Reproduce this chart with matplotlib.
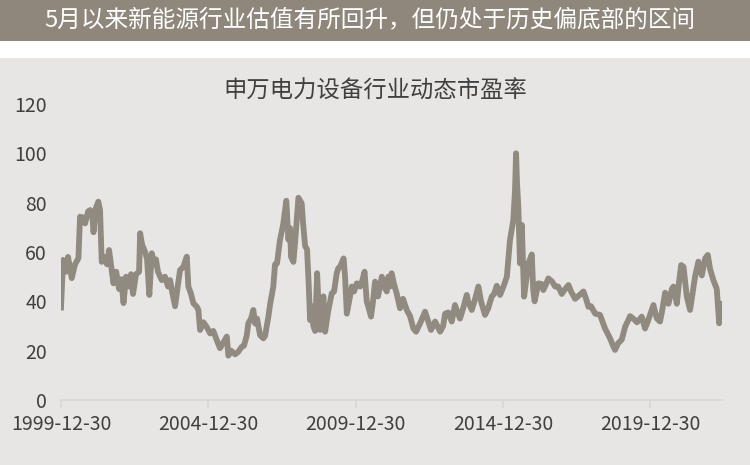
import pandas as pd
import matplotlib
matplotlib.use("Agg")
import matplotlib.pyplot as plt
from matplotlib.patches import Rectangle

plt.rcParams['font.family'] = ['Noto Sans CJK SC', 'DejaVu Sans']

# 标题
banner = "5月以来新能源行业估值有所回升，但仍处于历史偏底部的区间"
title = "申万电力设备行业动态市盈率"

# 申万电力设备 PE
dates = [
    "1999-12-30", "2000-01-25", "2000-03-01", "2000-03-26", "2000-05-11", "2000-06-21",
    "2000-08-02", "2000-08-22", "2000-09-29", "2000-10-24", "2000-12-01", "2000-12-25",
    "2001-01-19", "2001-02-05", "2001-03-08", "2001-04-06", "2001-04-27", "2001-05-18",
    "2001-06-16", "2001-07-23", "2001-08-17", "2001-10-10", "2001-11-13", "2001-12-19",
    "2002-01-14", "2002-02-12", "2002-03-15", "2002-04-21", "2002-05-16", "2002-06-10",
    "2002-07-17", "2002-08-24", "2002-09-06", "2002-09-30", "2002-11-07", "2002-12-01",
    "2002-12-29", "2003-01-28", "2003-02-26", "2003-03-21", "2003-04-15", "2003-06-01",
    "2003-07-11", "2003-08-18", "2003-09-12", "2003-10-07", "2003-11-13", "2003-12-20",
    "2004-01-14", "2004-02-24", "2004-04-06", "2004-04-26", "2004-05-29", "2004-06-27",
    "2004-08-08", "2004-08-28", "2004-09-18", "2004-10-29", "2004-12-02", "2005-01-21",
    "2005-03-01", "2005-04-16", "2005-05-23", "2005-06-29", "2005-08-15", "2005-09-04",
    "2005-10-07", "2005-11-26", "2006-01-03", "2006-02-18", "2006-03-16", "2006-04-19",
    "2006-05-09", "2006-06-12", "2006-07-10", "2006-08-01", "2006-08-25", "2006-10-02",
    "2006-11-12", "2006-12-03", "2007-01-13", "2007-02-04", "2007-03-15", "2007-04-05",
    "2007-04-30", "2007-06-06", "2007-06-27", "2007-07-17", "2007-08-23", "2007-09-18",
    "2007-10-08", "2007-10-21", "2007-11-19", "2007-12-10", "2008-01-20", "2008-03-01",
    "2008-03-17", "2008-04-12", "2008-05-06", "2008-05-25", "2008-06-13", "2008-07-04",
    "2008-07-23", "2008-08-14", "2008-09-08", "2008-09-26", "2008-10-15", "2008-11-03",
    "2008-11-25", "2008-12-16", "2009-01-23", "2009-03-08", "2009-04-06", "2009-05-09",
    "2009-05-28", "2009-06-19", "2009-08-02", "2009-08-20", "2009-09-11", "2009-10-09",
    "2009-11-12", "2009-12-10", "2010-01-13", "2010-02-24", "2010-03-18", "2010-04-19",
    "2010-05-16", "2010-06-05", "2010-07-08", "2010-08-02", "2010-08-27", "2010-10-03",
    "2010-11-19", "2010-12-17", "2011-01-20", "2011-02-09", "2011-03-01", "2011-03-21",
    "2011-04-19", "2011-05-22", "2011-07-02", "2011-08-09", "2011-09-24", "2011-11-04",
    "2011-12-15", "2012-01-18", "2012-03-07", "2012-05-08", "2012-06-15", "2012-07-21",
    "2012-09-10", "2012-11-11", "2012-12-18", "2013-01-12", "2013-02-19", "2013-04-04",
    "2013-05-14", "2013-06-09", "2013-07-15", "2013-08-22", "2013-10-07", "2013-10-23",
    "2013-12-08", "2014-01-19", "2014-02-28", "2014-04-02", "2014-05-21", "2014-06-28",
    "2014-08-13", "2014-09-11", "2014-10-14", "2014-11-24", "2015-01-05", "2015-02-16",
    "2015-03-27", "2015-05-07", "2015-05-28", "2015-06-10", "2015-06-22", "2015-07-08",
    "2015-07-29", "2015-08-20", "2015-09-18", "2015-10-12", "2015-11-10", "2015-12-22",
    "2016-01-08", "2016-01-26", "2016-03-12", "2016-04-24", "2016-05-13", "2016-06-16",
    "2016-07-14", "2016-08-30", "2016-10-06", "2016-11-13", "2016-12-28", "2017-02-08",
    "2017-03-21", "2017-04-22", "2017-06-11", "2017-07-17", "2017-09-22", "2017-10-25",
    "2017-11-23", "2017-12-26", "2018-02-15", "2018-04-16", "2018-06-17", "2018-08-18",
    "2018-09-29", "2018-10-19", "2018-11-26", "2019-01-11", "2019-02-21", "2019-04-02",
    "2019-04-23", "2019-06-03", "2019-07-18", "2019-09-15", "2019-10-26", "2019-11-20",
    "2019-12-27", "2020-02-07", "2020-03-19", "2020-04-29", "2020-05-24", "2020-07-01",
    "2020-08-11", "2020-09-22", "2020-10-12", "2020-11-23", "2020-12-21", "2021-01-16",
    "2021-02-14", "2021-03-26", "2021-05-06", "2021-05-31", "2021-07-07", "2021-08-17",
    "2021-09-29", "2021-11-09", "2021-12-12", "2022-01-10", "2022-02-20", "2022-04-02",
    "2022-05-02", "2022-05-25",
]
pe = [
    37.5, 56.8, 52, 58, 49.4, 55,
    57.5, 74.3, 74, 71.6, 76.5, 77,
    76, 68, 78, 80.4, 77, 56,
    58, 55, 60.8, 47.3, 52, 45,
    49, 39.3, 50, 46, 51, 43,
    51, 52, 67.6, 63, 60, 57,
    42.6, 59.5, 55, 57, 52, 48.6,
    50, 46, 48.6, 44, 38, 47,
    52.7, 54, 58.1, 46, 43, 39.2,
    37.8, 36.5, 28.4, 31.5, 30, 27,
    28, 24, 21, 23, 25.7, 18,
    20, 18.5, 19.5, 21.6, 22, 26,
    31.1, 33, 36.5, 31, 33, 26.3,
    25, 26, 33.8, 39, 46, 55,
    55.4, 65, 68.2, 71.6, 80.8, 65,
    69.7, 58, 56, 64, 82, 79.7,
    72, 62.5, 61, 48, 32.4, 38,
    30, 28, 51.4, 38, 28.4, 36,
    42, 27.7, 36, 43.2, 44, 51.4,
    53.4, 54, 57.4, 50, 35, 40,
    46, 44, 47.3, 46, 48, 52,
    40, 37.8, 33.8, 40, 48, 42,
    50, 46, 44, 50, 46, 51.4,
    47, 43.2, 37.2, 41, 36.5, 34,
    29, 27.7, 31, 35.8, 32, 28.4,
    31.8, 27.7, 30, 35, 35.5, 31.8,
    38.5, 36, 33, 37, 42.6, 40,
    36.5, 41, 46, 40, 34.5, 37,
    42, 43, 46.3, 42.6, 46, 50,
    64.9, 73, 85, 100, 88, 78.4,
    55.4, 71, 41.9, 48, 55.4, 59,
    45, 40, 47.3, 47, 44.6, 47,
    49.3, 48, 46, 46, 43, 45,
    46.6, 44, 41, 42, 44, 41,
    37.8, 38, 35, 34.5, 29, 25,
    21.6, 20.3, 23, 24.5, 29.7, 32.4,
    34, 33, 31.5, 33.8, 29, 31,
    34.5, 38.5, 33.1, 31.8, 36, 43.5,
    39, 45, 46, 39, 48, 54.7,
    54, 42, 36.5, 42, 50, 56.1,
    50.5, 57.4, 58.8, 53, 48.5, 45,
    31.1, 39,
]
xticks = ["1999-12-30", "2004-12-30", "2009-12-30", "2014-12-30", "2019-12-30"]
yticks = [0, 20, 40, 60, 80, 100, 120]

line_color = "#918a80"
bg_color = "#e8e6e4"
text_color = "#404040"

fig = plt.figure(figsize=(7.5, 4.65), dpi=100)
fig.patch.set_facecolor("white")
fig.patches.append(Rectangle((0, 0), 1, (465 - 58) / 465, transform=fig.transFigure,
                             facecolor=bg_color, edgecolor="none", zorder=-5))
fig.patches.append(Rectangle((0, (465 - 41) / 465), 1, 41 / 465, transform=fig.transFigure,
                             facecolor="#8f877c", edgecolor="none", zorder=-5))
fig.text(0.493, 1 - 20 / 465, banner, color="white", fontsize=17, ha="center", va="center")
fig.text(0.501, 1 - 91 / 465, title, color=text_color, fontsize=16.8, ha="center", va="center")

ax = fig.add_axes([61 / 750, 65 / 465, 661 / 750, 296 / 465])
ax.set_facecolor("none")
ax.set_zorder(2)
ax.plot(pd.to_datetime(dates), pe, color=line_color, lw=4.2, solid_joinstyle="round")

ax.set_xlim(pd.Timestamp("1999-12-30"), pd.Timestamp("2022-06-06"))
ax.set_ylim(0, 120)
ax.set_xticks(pd.to_datetime(xticks))
ax.set_xticklabels(xticks)
ax.set_yticks(yticks)
for s in ["top", "right", "left"]:
    ax.spines[s].set_visible(False)
ax.spines["bottom"].set_color("#d9d9d9")
ax.spines["bottom"].set_linewidth(1.5)
ax.tick_params(axis="x", colors="#d9d9d9", length=6, width=1.5, labelcolor=text_color,
               labelsize=14, pad=4)
ax.tick_params(axis="y", length=0, labelcolor=text_color, labelsize=14, pad=10)

fig.savefig("out.png", dpi=100)
